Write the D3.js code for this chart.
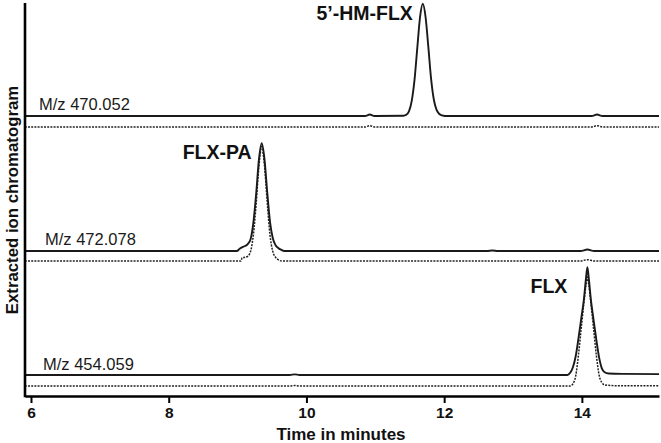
<!DOCTYPE html>
<html>
<head>
<meta charset="utf-8">
<script src="https://cdn.jsdelivr.net/npm/d3@7"></script>
<style>
  body { margin: 0; background: #fff; }
  svg { display: block; font-family: Arial, "Liberation Sans", sans-serif; }
</style>
</head>
<body>
<div id="chart"></div>
<script>
// Retention times in minutes, intensities in % of the panel's full scale
const xTicks = [6, 8, 10, 12, 14];
const ionLabels = ["M/z 470.052", "M/z 472.078", "M/z 454.059"];
const peakNames = ["5’-HM-FLX", "FLX-PA", "FLX"];
const peakTimes = [11.69, 9.35, 14.08];

const hmSolid = [[5.91, 0], [10.85, 0], [10.92, 1.3], [10.99, 0], [11.41, 0.2], [11.45, 1.1], [11.49, 4.5],
  [11.53, 14], [11.57, 33], [11.61, 62], [11.65, 90], [11.69, 102], [11.73, 90], [11.77, 63], [11.81, 34],
  [11.85, 15], [11.89, 5.5], [11.93, 1.8], [11.97, 0.5], [12.01, 0], [14.14, 0], [14.22, 1.3], [14.3, 0], [15.12, 0]];
const hmDotted = [[5.91, 0], [10.85, 0], [10.92, 1.2], [10.99, 0], [14.14, 0], [14.22, 1.2], [14.3, 0], [15.12, 0]];

const paSolid = [[5.91, 0], [8.99, 0], [9.03, 2], [9.07, 3.5], [9.11, 4.5], [9.15, 6.5], [9.19, 11], [9.23, 26],
  [9.27, 52], [9.31, 83], [9.35, 98], [9.39, 84], [9.43, 54], [9.47, 27], [9.51, 12], [9.55, 5.5], [9.59, 2.8],
  [9.63, 1.2], [9.68, 0], [12.62, 0], [12.7, 0.5], [12.78, 0], [13.98, 0], [14.08, 1.3], [14.18, 0], [15.12, 0]];
const paDotted = [[5.91, 0], [9.05, 0], [9.065, 3], [9.1, 3.2], [9.15, 4.5], [9.19, 9], [9.23, 24], [9.27, 52],
  [9.31, 86], [9.35, 104], [9.39, 87], [9.43, 54], [9.47, 24], [9.51, 9], [9.55, 3.5], [9.59, 1.2], [9.64, 0],
  [13.98, 0], [14.08, 1.2], [14.18, 0], [15.12, 0]];

const flxSolid = [[5.91, 0], [9.76, 0], [9.83, 0.6], [9.9, 0], [13.79, 0], [13.83, 2], [13.87, 7], [13.91, 17],
  [13.95, 33], [13.99, 51], [14.03, 69], [14.06, 88], [14.08, 98], [14.1, 88], [14.13, 69], [14.17, 50],
  [14.21, 32], [14.25, 16], [14.29, 6], [14.33, 2.5], [14.39, 1.3], [14.6, 1], [15.12, 0.8]];
const flxDotted = [[5.91, 0], [9.76, 0], [9.83, 0.4], [9.9, 0], [13.83, 0], [13.87, 2], [13.91, 9], [13.95, 28],
  [13.99, 52], [14.03, 76], [14.06, 92], [14.08, 99], [14.1, 92], [14.13, 76], [14.17, 52], [14.21, 28],
  [14.25, 10], [14.29, 3], [14.33, 1], [14.5, 0.3], [15.12, 0.3]];

const panels = [
  {solid: hmSolid, dotted: hmDotted},
  {solid: paSolid, dotted: paDotted},
  {solid: flxSolid, dotted: flxDotted}
];

// layout
const width = 661, height = 443;
const axisX = 25, axisY = 396, axisTop = 3;
const solidBase = [116, 251, 375];
const dottedBase = [127, 261, 386];
const fullScale = 110; // px for 100 %
const labelX = [39, 45, 43];
const labelLift = [6, 6, 5];
const nameDx = [-10, -10, -20];
const nameY = [20, 159, 293];

const x = d3.scaleLinear([5.913, 15.12], [axisX, 659]);

const svg = d3.select("#chart").append("svg")
    .attr("width", width)
    .attr("height", height)
    .attr("viewBox", [0, 0, width, height]);

panels.forEach((p, i) => {
  const ySolid = d3.scaleLinear([0, 100], [solidBase[i], solidBase[i] - fullScale]);
  const yDotted = d3.scaleLinear([0, 100], [dottedBase[i], dottedBase[i] - fullScale]);

  svg.append("path")
      .datum(p.dotted)
      .attr("fill", "none")
      .attr("stroke", "#222")
      .attr("stroke-width", 1.5)
      .attr("stroke-dasharray", "2,1.2")
      .attr("d", d3.line().x(d => x(d[0])).y(d => yDotted(d[1])).curve(d3.curveMonotoneX));

  svg.append("path")
      .datum(p.solid)
      .attr("fill", "none")
      .attr("stroke", "#1a1a1a")
      .attr("stroke-width", 1.9)
      .attr("stroke-linejoin", "round")
      .attr("d", d3.line().x(d => x(d[0])).y(d => ySolid(d[1])).curve(d3.curveMonotoneX));

  svg.append("text")
      .attr("x", labelX[i])
      .attr("y", solidBase[i] - labelLift[i])
      .attr("font-size", 16.5)
      .attr("fill", "#1a1a1a")
      .text(ionLabels[i]);

  svg.append("text")
      .attr("x", x(peakTimes[i]) + nameDx[i])
      .attr("y", nameY[i])
      .attr("text-anchor", "end")
      .attr("font-size", 19.5)
      .attr("font-weight", "bold")
      .attr("fill", "#111")
      .text(peakNames[i]);
});

// x axis
svg.append("g")
    .attr("transform", `translate(0,${axisY})`)
    .call(d3.axisBottom(x).tickValues(xTicks).tickSize(7).tickSizeOuter(0).tickPadding(4))
    .attr("font-size", 15.5)
    .attr("font-weight", "bold")
    .attr("font-family", "Arial, 'Liberation Sans', sans-serif")
    .call(g => g.select(".domain").attr("stroke", "#000").attr("stroke-width", 2.6))
    .call(g => g.selectAll(".tick line").attr("stroke", "#000").attr("stroke-width", 2))
    .call(g => g.selectAll(".tick text")
        .attr("fill", "#111")
        .style("font-size", "15.5px")
        .style("font-weight", "bold"));

// y axis (no ticks)
svg.append("line")
    .attr("x1", axisX).attr("x2", axisX)
    .attr("y1", axisTop).attr("y2", axisY + 1.3)
    .attr("stroke", "#000")
    .attr("stroke-width", 2.6);

svg.append("text")
    .attr("x", 341)
    .attr("y", 440)
    .attr("text-anchor", "middle")
    .attr("font-size", 17)
    .attr("font-weight", "bold")
    .attr("fill", "#111")
    .text("Time in minutes");

svg.append("text")
    .attr("transform", "translate(18,200) rotate(-90)")
    .attr("text-anchor", "middle")
    .attr("font-size", 16.8)
    .attr("font-weight", "bold")
    .attr("fill", "#111")
    .text("Extracted ion chromatogram");
</script>
</body>
</html>
